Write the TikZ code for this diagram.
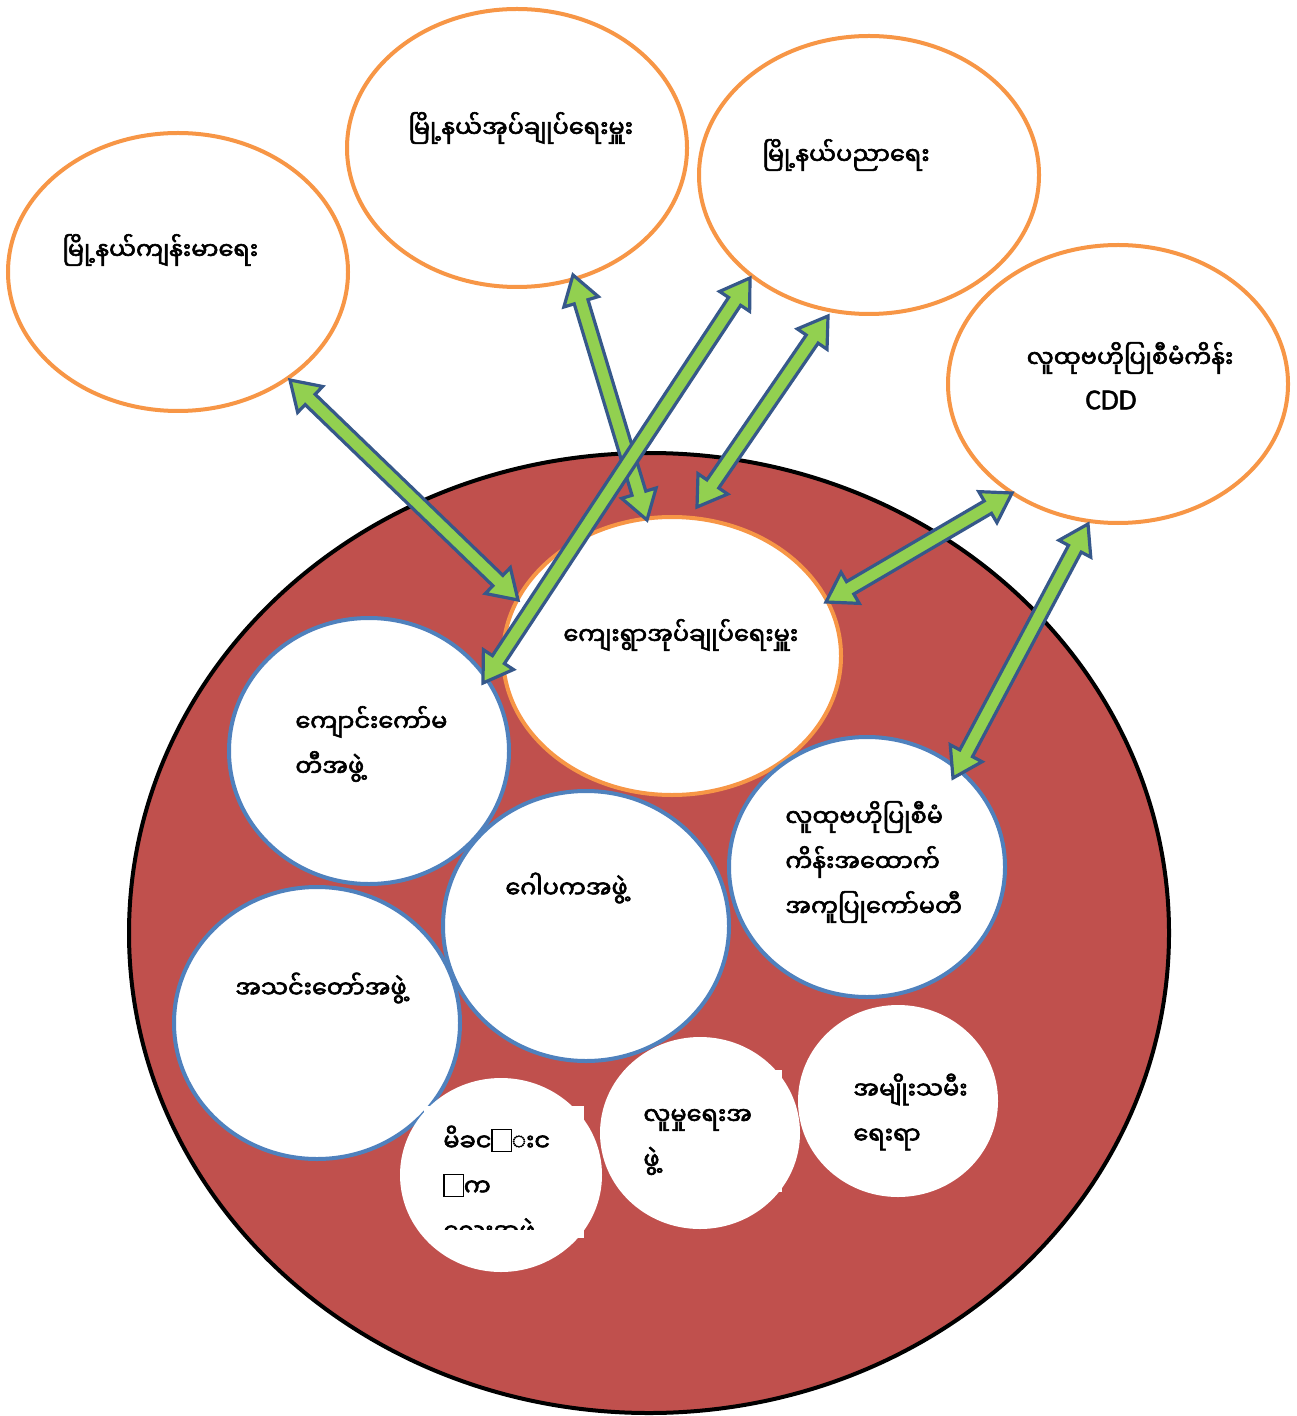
\documentclass[tikz,border=0pt]{standalone}
\usepackage{fontspec}
\usetikzlibrary{calc}
\newfontfamily\myfont[Script=Myanmar,AutoFakeBold=2.5]{Noto Sans Myanmar UI}
\newfontfamily\latfont[AutoFakeBold=1.5]{Carlito}
\definecolor{bigred}{HTML}{C0504D}
\definecolor{orng}{HTML}{F79646}
\definecolor{blu}{HTML}{4F81BD}
\definecolor{grn}{HTML}{92D050}
\definecolor{arrline}{HTML}{36588A}
\newcommand\tofubox{{\setlength\fboxsep{0pt}\setlength\fboxrule{0.6pt}\fbox{\rule{0pt}{0.85em}\rule{0.75em}{0pt}}}}
\newcommand\dblarrow[2]{%
  \coordinate (h1) at ($(#1)!14pt!(#2)$);
  \coordinate (h2) at ($(#2)!14pt!(#1)$);
  \draw[arrowsty] (#1) -- ($(h1)!9pt!90:(#2)$) -- ($(h1)!3.6pt!90:(#2)$)
    -- ($(h2)!3.6pt!-90:(#1)$) -- ($(h2)!9pt!-90:(#1)$) -- (#2)
    -- ($(h2)!9pt!90:(#1)$) -- ($(h2)!3.6pt!90:(#1)$)
    -- ($(h1)!3.6pt!-90:(#2)$) -- ($(h1)!9pt!-90:(#2)$) -- cycle;}
\tikzset{
  orangeell/.style={draw=orng,line width=2pt,fill=white},
  blueell/.style={draw=blu,line width=2pt,fill=white},
  whiteell/.style={fill=white},
  arrowsty/.style={draw=arrline,line width=1.6pt,fill=grn,line join=miter},
  lbl/.style={font=\myfont\bfseries\fontsize{12}{22.5}\selectfont,align=left,inner sep=0pt,anchor=west},
}
\begin{document}
\begin{tikzpicture}[x=0.5pt,y=-0.5pt]
\useasboundingbox (0,0) rectangle (1296,1416);
% big circle
\path[fill=bigred,draw=black,line width=2pt] (649,933) ellipse [x radius=520, y radius=480];
% outer orange ellipses
\path[orangeell] (178,272) ellipse [x radius=170, y radius=139];
\path[orangeell] (517,148) ellipse [x radius=170, y radius=139];
\path[orangeell] (869,175) ellipse [x radius=170, y radius=139];
\path[orangeell] (1118,384) ellipse [x radius=170, y radius=139];
\node[lbl] (t1) at (62,250) {မြို့နယ်ကျန်းမာရေး};
\node[lbl] (t2) at (408,128) {မြို့နယ်အုပ်ချုပ်ရေးမှူး};
\node[lbl] (t3) at (762,155) {မြို့နယ်ပညာရေး};
\node[lbl,anchor=center] (t4) at (1130,358) {လူထုဗဟိုပြုစီမံကိန်း};
\node[font=\latfont\bfseries\fontsize{14.5}{16}\selectfont,inner sep=0pt] (t4b) at (1111,400) {CDD};
% village admin
\path[orangeell] (672,656) ellipse [x radius=169, y radius=139];
\node[lbl] (t5) at (563,635) {ကျေးရွာအုပ်ချုပ်ရေးမှူး};
% blue circles
\path[blueell] (369,751) ellipse [x radius=140, y radius=133];
\node[lbl] (t6) at (295,744) {ကျောင်းကော်မ\\တီအဖွဲ့};
\path[blueell] (586,926) ellipse [x radius=143, y radius=135];
\node[lbl] (t7) at (505,888) {ဂေါပကအဖွဲ့};
\path[blueell] (867,867) ellipse [x radius=138, y radius=130];
\node[lbl] (t8) at (785,862) {လူထုဗဟိုပြုစီမံ\\ကိန်းအထောက်\\အကူပြုကော်မတီ};
\path[blueell] (317,1023) ellipse [x radius=143, y radius=136];
\node[lbl] (t9) at (235,988) {အသင်းတော်အဖွဲ့};
% white circles
\path[whiteell] (501,1175) ellipse [x radius=101, y radius=97];
\path[fill=white] (424,1106) rectangle (584,1238);
\begin{scope}
\clip (424,1106) rectangle (584,1229);
\node[lbl] (t10) at (443,1186) {မိခင\tofubox{}းင\\\tofubox{}က\\လေးအဖွဲ့};
\end{scope}
\path[whiteell] (700,1133) ellipse [x radius=100, y radius=96];
\path[fill=white] (624,1070) rectangle (782,1192);
\node[lbl] (t11) at (643,1142) {လူမှုရေးအ\\ဖွဲ့};
\path[whiteell] (898,1101) ellipse [x radius=100, y radius=96];
\node[lbl] (t12) at (853,1112) {အမျိုးသမီး\\ရေးရာ};
% arrow end points
\coordinate (a1) at (290,380); \coordinate (b1) at (518,600);
\coordinate (a2) at (573,275); \coordinate (b2) at (647,520);
\coordinate (a3) at (750,278); \coordinate (b3) at (483,683);
\coordinate (a4) at (828,316); \coordinate (b4) at (697,507);
\coordinate (a5) at (1012,493); \coordinate (b5) at (826,602);
\coordinate (a6) at (1088,524); \coordinate (b6) at (953,778);
\dblarrow{a1}{b1}
\dblarrow{a2}{b2}
\dblarrow{a3}{b3}
\dblarrow{a4}{b4}
\dblarrow{a5}{b5}
\dblarrow{a6}{b6}
\end{tikzpicture}
\end{document}
